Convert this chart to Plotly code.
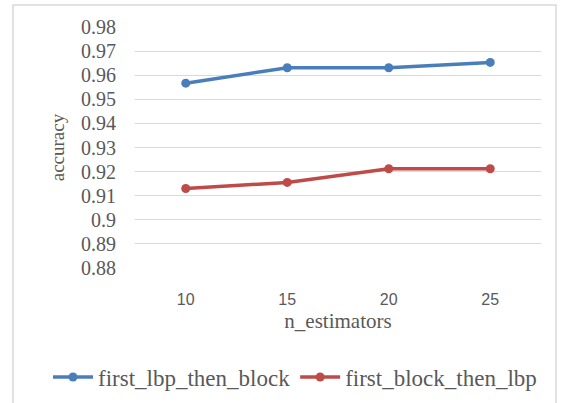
import plotly.graph_objects as go

categories = ["10", "15", "20", "25"]
first_lbp_then_block = [0.9567, 0.9631, 0.9631, 0.9653]
first_block_then_lbp = [0.9130, 0.9155, 0.9212, 0.9212]
y_ticks = [0.88, 0.89, 0.90, 0.91, 0.92, 0.93, 0.94, 0.95, 0.96, 0.97, 0.98]
y_tick_text = ["0.88", "0.89", "0.9", "0.91", "0.92", "0.93", "0.94", "0.95", "0.96", "0.97", "0.98"]

serif = "Liberation Serif"
grey = "#595959"

fig = go.Figure()
fig.add_trace(go.Scatter(x=categories, y=first_lbp_then_block, name="first_lbp_then_block",
                         mode="lines+markers", line=dict(color="#4A7EBB", width=3.5),
                         marker=dict(size=9, color="#4A7EBB")))
fig.add_trace(go.Scatter(x=categories, y=first_block_then_lbp, name="first_block_then_lbp",
                         mode="lines+markers", line=dict(color="#BE4B48", width=3.5),
                         marker=dict(size=9, color="#BE4B48")))

W, H = 564, 403
l, r, t, b = 135, 23, 27, 135
pw = W - l - r
ph = H - t - b

fig.update_layout(
    width=W, height=H,
    margin=dict(l=l, r=r, t=t, b=b, autoexpand=False),
    paper_bgcolor="white", plot_bgcolor="white",
    showlegend=True,
    legend=dict(orientation="h", x=(48 - l) / pw, xanchor="left",
                y=(H - b - 377) / ph, yanchor="middle",
                font=dict(family=serif, size=23, color=grey), itemwidth=40,
                tracegroupgap=0, bgcolor="rgba(0,0,0,0)"),
    xaxis=dict(type="category", range=[-0.5, 3.5], showgrid=False, showline=False,
               ticks="", ticklabelstandoff=20,
               tickfont=dict(family="Liberation Sans", size=16, color=grey),
               title=dict(text="n_estimators", font=dict(family=serif, size=21, color=grey), standoff=6),
               zeroline=False),
    yaxis=dict(range=[0.88, 0.98], tickvals=y_ticks, ticktext=y_tick_text,
               showgrid=True, gridcolor="#D9D9D9", gridwidth=1, showline=False, ticks="",
               ticklabelstandoff=18,
               tickfont=dict(family=serif, size=20, color=grey), zeroline=False,
               title=dict(text="accuracy", font=dict(family=serif, size=19, color=grey), standoff=11)),
)

x0 = (13 - l) / pw
x1 = (556 - l) / pw
y1 = 1 + (t - 5) / ph
y0 = -(b + 10) / ph
fig.add_shape(type="rect", xref="paper", yref="paper", x0=x0, x1=x1, y0=y0, y1=y1,
              line=dict(color="#D9D9D9", width=1.5), fillcolor="rgba(0,0,0,0)", layer="below")

fig.write_html("out.html", config={"displayModeBar": False},
               post_script="document.body.style.margin='0';")
